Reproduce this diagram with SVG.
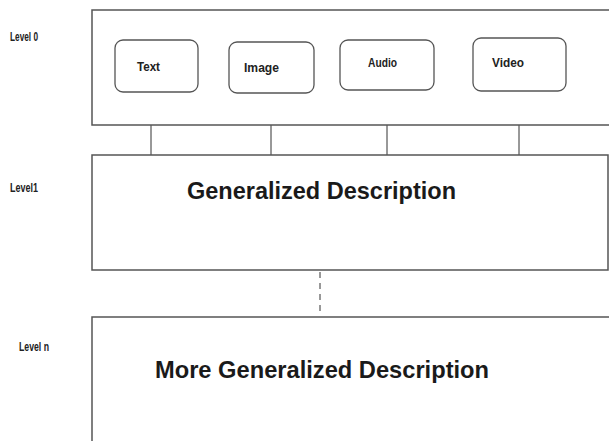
<svg xmlns="http://www.w3.org/2000/svg" width="609" height="441" viewBox="0 0 609 441">
<style>
.lvl{fill:#fff;stroke:#555;stroke-width:1.5}
.node{fill:#fff;stroke:#555;stroke-width:1.3}
.conn{stroke:#333;stroke-width:1;fill:none}
.small{font-family:"Liberation Sans",Arial,sans-serif;font-size:12px;font-weight:bold;fill:#222}
.big{font-family:"Liberation Sans",Arial,sans-serif;font-size:24px;font-weight:bold;fill:#1a1a1a}
</style>
<rect width="609" height="441" fill="#fff"/>
<g id="connectors">
<line class="conn" x1="151" y1="92" x2="151" y2="155"/>
<line class="conn" x1="271" y1="93" x2="271" y2="155"/>
<line class="conn" x1="387" y1="90" x2="387" y2="155"/>
<line class="conn" x1="519" y1="91" x2="519" y2="155"/>
<line class="conn" x1="320" y1="272" x2="320" y2="316" stroke-dasharray="6,5"/>
</g>
<g id="level0">
<rect class="lvl" x="92" y="10" width="520" height="115"/>
<text class="small" x="10" y="41" textLength="28" lengthAdjust="spacingAndGlyphs">Level 0</text>
</g>
<g id="text"><rect class="node" x="115" y="40" width="83" height="52" rx="8"/><text class="small" x="137" y="71" textLength="23" lengthAdjust="spacingAndGlyphs">Text</text></g>
<g id="image"><rect class="node" x="229" y="42" width="85" height="51" rx="8"/><text class="small" x="244" y="72" textLength="35" lengthAdjust="spacingAndGlyphs">Image</text></g>
<g id="audio"><rect class="node" x="340" y="40" width="94" height="50" rx="8"/><text class="small" x="368" y="67" textLength="29" lengthAdjust="spacingAndGlyphs">Audio</text></g>
<g id="video"><rect class="node" x="473" y="38" width="93" height="53" rx="8"/><text class="small" x="492" y="67" textLength="32" lengthAdjust="spacingAndGlyphs">Video</text></g>
<g id="level1">
<rect class="lvl" x="92" y="155" width="516" height="115"/>
<text class="small" x="10" y="192" textLength="28" lengthAdjust="spacingAndGlyphs">Level1</text>
<text class="big" x="187" y="199" textLength="269" lengthAdjust="spacingAndGlyphs">Generalized Description</text>
</g>
<g id="leveln">
<rect class="lvl" x="92" y="317" width="520" height="130"/>
<text class="small" x="19" y="351" textLength="30" lengthAdjust="spacingAndGlyphs">Level n</text>
<text class="big" x="155" y="378" textLength="334" lengthAdjust="spacingAndGlyphs">More Generalized Description</text>
</g>
</svg>
